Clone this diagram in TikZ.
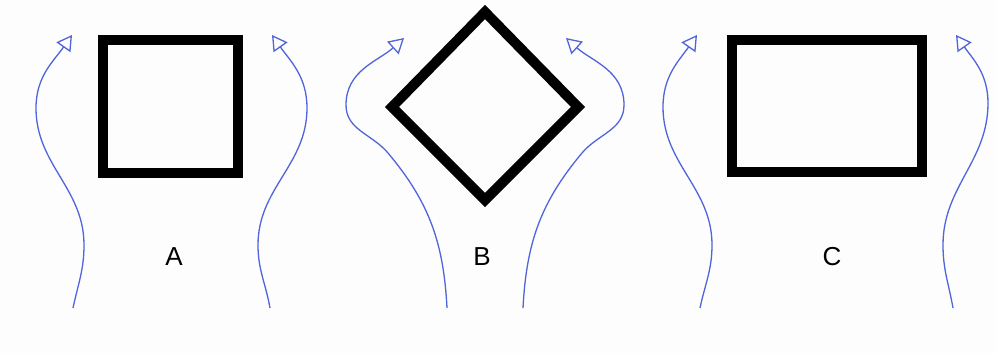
\documentclass[tikz,border=0pt]{standalone}
\usepackage{fontspec}
\setmainfont{Liberation Sans}
\usetikzlibrary{arrows.meta}
\definecolor{flow}{RGB}{80,100,220}
\definecolor{bg}{RGB}{253,253,253}
\tikzset{
  body/.style={draw=black, line width=10pt, line join=miter, inner sep=0pt, minimum width=#1},
  streamline/.style={draw=flow, line width=1.3pt, -{Triangle[open, length=15pt, width=17pt, line width=1.3pt]}},
  letter/.style={font=\fontsize{26}{30}\selectfont, inner sep=0pt}
}
\begin{document}
\begin{tikzpicture}[x=1pt,y=1pt]
\fill[bg] (0,0) rectangle (996,-353);
\useasboundingbox (0,0) rectangle (996,-353);
% bodies
\node[body=135pt, minimum height=133pt] (sq) at (170.5,-106.5) {};
\coordinate (dt) at (485,-12);
\coordinate (dr) at (578,-107);
\coordinate (db) at (485,-200);
\coordinate (dl) at (392,-107);
\draw[black, line width=10pt, line join=miter] (dt) -- (dr) -- (db) -- (dl) -- cycle;
\node[body=190pt, minimum height=132pt] (rc) at (827,-106) {};
% labels
\node[letter] (la) at (174,-257) {A};
\node[letter] (lb) at (482,-257) {B};
\node[letter] (lc) at (832,-257) {C};
% streamlines
\draw[streamline] (73,-308) to[out=78,in=-90] (84,-245) to[out=90,in=-90] (36,-108) to[out=90,in=235] (72,-35);
\draw[streamline] (270,-308) to[out=100,in=-90] (258,-245) to[out=90,in=-90] (307,-108) to[out=90,in=-55] (272,-35);
\draw[streamline] (447,-308) to[out=93,in=-50] (388,-153) to[out=130,in=-90] (346,-105) to[out=90,in=222] (404,-38);
\draw[streamline] (523,-308) to[out=87,in=-130] (582,-153) to[out=50,in=-90] (624,-105) to[out=90,in=-42] (566,-38);
\draw[streamline] (700,-308) to[out=78,in=-90] (712,-245) to[out=90,in=-90] (663,-107) to[out=90,in=235] (697,-35);
\draw[streamline] (953,-308) to[out=100,in=-90] (943,-245) to[out=90,in=-90] (988,-103) to[out=90,in=-55] (956,-35);
\end{tikzpicture}
\end{document}
